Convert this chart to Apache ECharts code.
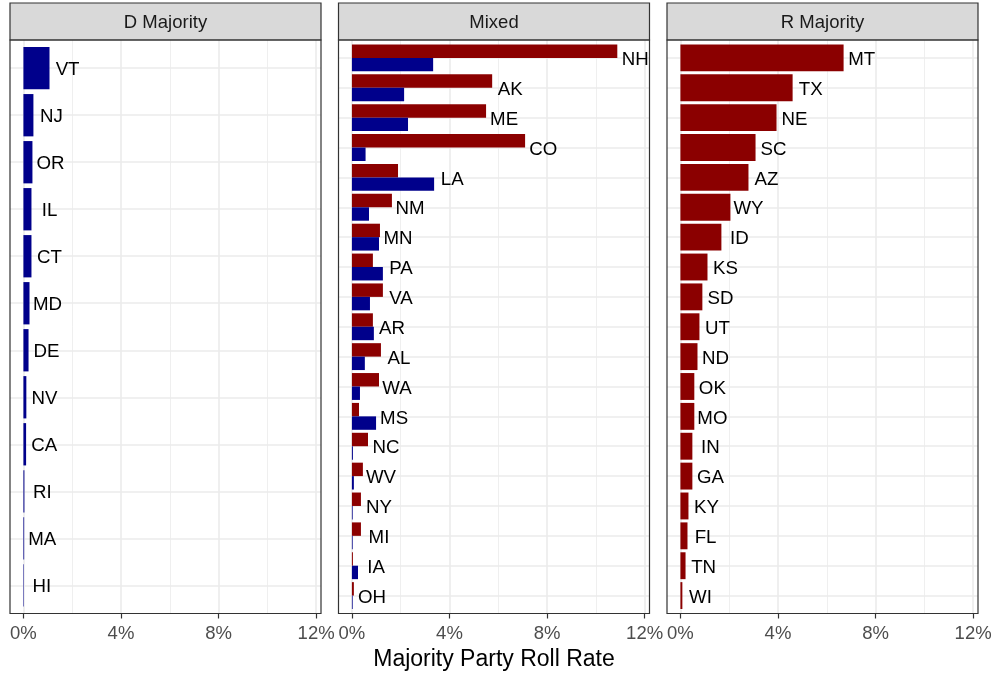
<!DOCTYPE html>
<html>
<head>
<meta charset="utf-8">
<title>Majority Party Roll Rate by State</title>
<script src="https://cdn.jsdelivr.net/npm/echarts@6/dist/echarts.min.js"></script>
<style>
  html, body { margin: 0; padding: 0; background: #ffffff; }
  #chart { width: 994px; height: 673px; }
</style>
</head>
<body>
<div id="chart"></div>
<script>
// Roll rates (percent) for the majority party, by chamber control type.
const panelTitles = ['D Majority', 'Mixed', 'R Majority'];

const dMajorityStates = ['VT', 'NJ', 'OR', 'IL', 'CT', 'MD', 'DE', 'NV', 'CA', 'RI', 'MA', 'HI'];
const dMajorityDemRoll = [1.07, 0.41, 0.37, 0.33, 0.33, 0.25, 0.21, 0.12, 0.11, 0.04, 0.03, 0.02];

const mixedStates = ['NH', 'AK', 'ME', 'CO', 'LA', 'NM', 'MN', 'PA', 'VA', 'AR', 'AL', 'WA', 'MS', 'NC', 'WV', 'NY', 'MI', 'IA', 'OH'];
const mixedRepRoll = [10.88, 5.75, 5.50, 7.10, 1.89, 1.64, 1.15, 0.86, 1.27, 0.86, 1.19, 1.11, 0.29, 0.66, 0.45, 0.37, 0.37, 0.04, 0.08];
const mixedDemRoll = [3.33, 2.14, 2.30, 0.56, 3.37, 0.70, 1.11, 1.27, 0.74, 0.90, 0.53, 0.33, 0.99, 0.04, 0.08, 0.03, 0.03, 0.25, 0.03];

const rMajorityStates = ['MT', 'TX', 'NE', 'SC', 'AZ', 'WY', 'ID', 'KS', 'SD', 'UT', 'ND', 'OK', 'MO', 'IN', 'GA', 'KY', 'FL', 'TN', 'WI'];
const rMajorityRepRoll = [6.69, 4.60, 3.94, 3.08, 2.79, 2.05, 1.68, 1.11, 0.90, 0.78, 0.70, 0.57, 0.57, 0.49, 0.49, 0.33, 0.29, 0.21, 0.08];

const xTickValues = [0, 4, 8, 12];
const xMinorValues = [2, 6, 10];
const xAxisTitle = 'Majority Party Roll Rate';

// ---- styling / layout ----
const FONT = '"Liberation Sans", Arial, Helvetica, sans-serif';
const DEM = '#00008B';
const REP = '#8B0000';
const GRID_COLOR = '#EBEBEB';
const X_MIN = -0.55, X_MAX = 12.2;
const LABEL_PAD = 0.74;               // state label sits this far (in %) past the longest bar
const PANEL_LEFT = [10, 338.5, 667];
const PANEL_W = 311;
const PANEL_TOP = 40;
const PANEL_H = 573.5;
const STRIP_TOP = 3;

const panels = [
  { title: panelTitles[0], states: dMajorityStates, bars: [{ values: dMajorityDemRoll, color: DEM }] },
  { title: panelTitles[1], states: mixedStates, bars: [{ values: mixedRepRoll, color: REP }, { values: mixedDemRoll, color: DEM }] },
  { title: panelTitles[2], states: rMajorityStates, bars: [{ values: rMajorityRepRoll, color: REP }] }
];

const grid = [], xAxis = [], yAxis = [], series = [], graphic = [];

panels.forEach((p, i) => {
  const left = PANEL_LEFT[i];
  const n = p.states.length;
  const pitch = PANEL_H / (n + 0.2);
  const inset = 0.1 * pitch;

  // outer grid: panel frame area, carries the x axis and vertical grid lines
  grid.push({ left: left, top: PANEL_TOP, width: PANEL_W, height: PANEL_H, show: false, outerBoundsMode: 'none' });
  // inner grid: category bands, bars and labels
  grid.push({ left: left, top: PANEL_TOP + inset, width: PANEL_W, height: PANEL_H - 2 * inset, show: false, outerBoundsMode: 'none' });
});

panels.forEach((p, i) => {
  const outer = 2 * i, inner = 2 * i + 1;
  xAxis[outer] = {
    type: 'value', gridIndex: outer, min: X_MIN, max: X_MAX,
    axisLine: { show: false },
    axisTick: { show: true, customValues: xTickValues, length: 5, lineStyle: { color: '#333333', width: 1.2 } },
    axisLabel: {
      show: true, customValues: xTickValues, margin: 11,
      formatter: v => v + '%', color: '#4D4D4D', fontSize: 18.5, fontFamily: FONT
    },
    splitLine: { show: false },
    name: i === 1 ? xAxisTitle : '',
    nameLocation: 'middle', nameGap: 35, nameMoveOverlap: false,
    nameTextStyle: { fontSize: 23, color: '#000000', fontFamily: FONT }
  };
  yAxis[outer] = { type: 'value', gridIndex: outer, min: 0, max: 1, show: false };
  xAxis[inner] = { type: 'value', gridIndex: inner, min: X_MIN, max: X_MAX, show: false };
  yAxis[inner] = { type: 'category', gridIndex: inner, data: p.states, inverse: true, show: false };
});

panels.forEach((p, i) => {
  const outer = 2 * i, inner = 2 * i + 1;

  // vertical grid lines (major at labelled ticks, minor halfway between)
  series.push({
    type: 'line', xAxisIndex: outer, yAxisIndex: outer, data: [], z: 1, silent: true,
    markLine: {
      silent: true, symbol: 'none', z: 1, animation: false,
      label: { show: false },
      data: xTickValues.map(v => ({ xAxis: v, lineStyle: { color: GRID_COLOR, width: 1.6, type: 'solid' } }))
        .concat(xMinorValues.map(v => ({ xAxis: v, lineStyle: { color: GRID_COLOR, width: 0.8, type: 'solid' } })))
    }
  });

  // horizontal grid lines through each state band
  series.push({
    type: 'line', xAxisIndex: inner, yAxisIndex: inner, data: [], z: 1, silent: true,
    markLine: {
      silent: true, symbol: 'none', z: 1, animation: false,
      label: { show: false },
      data: p.states.map(s => ({ yAxis: s, lineStyle: { color: GRID_COLOR, width: 1.6, type: 'solid' } }))
    }
  });

  // bars
  const single = p.bars.length === 1;
  p.bars.forEach(b => {
    series.push({
      type: 'bar', xAxisIndex: inner, yAxisIndex: inner, z: 3,
      data: b.values,
      barWidth: single ? '90%' : '45%',
      barGap: '0%',
      itemStyle: { color: b.color },
      silent: true
    });
  });

  // state labels past the longest bar
  series.push({
    type: 'scatter', xAxisIndex: inner, yAxisIndex: inner, z: 4,
    symbolSize: 0, silent: true,
    itemStyle: { color: 'rgba(0,0,0,0)' },
    data: p.states.map((s, k) => ({
      name: s,
      value: [Math.max.apply(null, p.bars.map(b => b.values[k])) + LABEL_PAD, s]
    })),
    label: {
      show: true, position: 'inside', offset: [0, 2], formatter: d => d.name,
      color: '#000000', opacity: 1, textBorderWidth: 0, textBorderColor: 'transparent',
      fontSize: 18.7, fontFamily: FONT
    }
  });

  // strip header and panel frame
  const left = PANEL_LEFT[i];
  graphic.push({
    type: 'rect', z: 100, silent: true,
    shape: { x: left, y: STRIP_TOP, width: PANEL_W, height: PANEL_TOP - STRIP_TOP },
    style: { fill: '#D9D9D9', stroke: '#333333', lineWidth: 1.2 }
  });
  graphic.push({
    type: 'text', z: 101, silent: true,
    x: left + PANEL_W / 2, y: (STRIP_TOP + PANEL_TOP) / 2 + 1,
    style: {
      text: p.title, fill: '#1A1A1A', font: '18.5px ' + FONT,
      textAlign: 'center', textVerticalAlign: 'middle'
    }
  });
  graphic.push({
    type: 'rect', z: 100, silent: true,
    shape: { x: left, y: PANEL_TOP, width: PANEL_W, height: PANEL_H },
    style: { fill: 'none', stroke: '#333333', lineWidth: 1.2 }
  });
});

const chart = echarts.init(document.getElementById('chart'), null, { renderer: 'canvas' });
chart.setOption({
  animation: false,
  backgroundColor: '#ffffff',
  grid: grid,
  xAxis: xAxis,
  yAxis: yAxis,
  series: series,
  graphic: graphic
});
</script>
</body>
</html>
